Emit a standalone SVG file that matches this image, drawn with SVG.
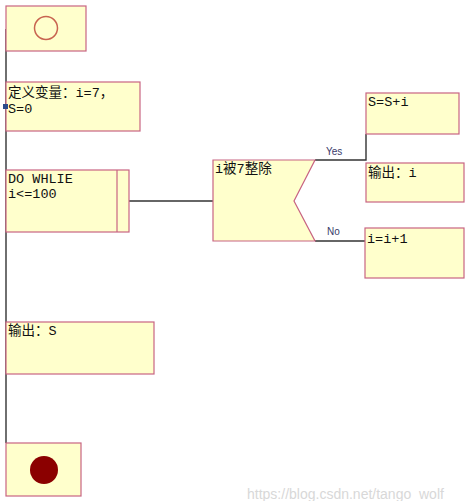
<svg xmlns="http://www.w3.org/2000/svg" width="470" height="501" viewBox="0 0 470 501">
<style>
.box{fill:#ffffcc;stroke:#c86482;stroke-width:1.2}
.ln{stroke:#333;stroke-width:1.4;fill:none}
.t{font-family:"Liberation Mono","Noto Sans CJK SC",monospace;font-size:13.5px;fill:#111}
.lbl{font-family:"Liberation Sans",Arial,sans-serif;font-size:10px;fill:#3a3a6a}
</style>
<rect width="470" height="501" fill="#fff"/>
<g id="connectors">
<path class="ln" d="M6,29 V443"/>
<path class="ln" d="M129,201 H213"/>
<path class="ln" d="M315,160 H366 V134"/>
<path class="ln" d="M315,241 H365"/>
<text class="lbl" x="326" y="155">Yes</text>
<text class="lbl" x="327" y="235">No</text>
</g>
<g id="start">
<rect class="box" x="6" y="6" width="80" height="45"/>
<circle cx="46" cy="28" r="11.5" fill="none" stroke="#c86450" stroke-width="1.5"/>
</g>
<g id="define">
<rect class="box" x="6" y="82" width="134" height="49"/>
<text class="t" x="8" y="97">定义变量：i=7，</text>
<text class="t" x="8" y="113">S=0</text>
<rect x="3" y="104" width="5" height="5" fill="#2a4a8a"/>
</g>
<g id="loop">
<rect class="box" x="6" y="170" width="123" height="62"/>
<line x1="117" y1="170" x2="117" y2="232" stroke="#c86482" stroke-width="1.2"/>
<text class="t" x="8" y="183">DO WHLIE</text>
<text class="t" x="8" y="198">i&lt;=100</text>
</g>
<g id="decision">
<polygon class="box" points="213,160 315,160 294,201 315,241 213,241"/>
<text class="t" x="215" y="173">i被7整除</text>
</g>
<g id="sum">
<rect class="box" x="366" y="93" width="93" height="41"/>
<text class="t" x="368" y="106">S=S+i</text>
</g>
<g id="out-i">
<rect class="box" x="366" y="163" width="98" height="39"/>
<text class="t" x="368" y="177">输出：i</text>
</g>
<g id="inc">
<rect class="box" x="365" y="228" width="99" height="50"/>
<text class="t" x="367" y="243">i=i+1</text>
</g>
<g id="out-s">
<rect class="box" x="6" y="322" width="148" height="52"/>
<text class="t" x="8" y="335">输出：S</text>
</g>
<g id="end">
<rect class="box" x="6" y="443" width="75" height="53"/>
<circle cx="44" cy="470" r="14" fill="#8b0000"/>
</g>
<text x="247" y="499" font-family="Liberation Sans,Arial,sans-serif" font-size="14" fill="#d8d8d8">https://blog.csdn.net/tango_wolf</text>
</svg>
